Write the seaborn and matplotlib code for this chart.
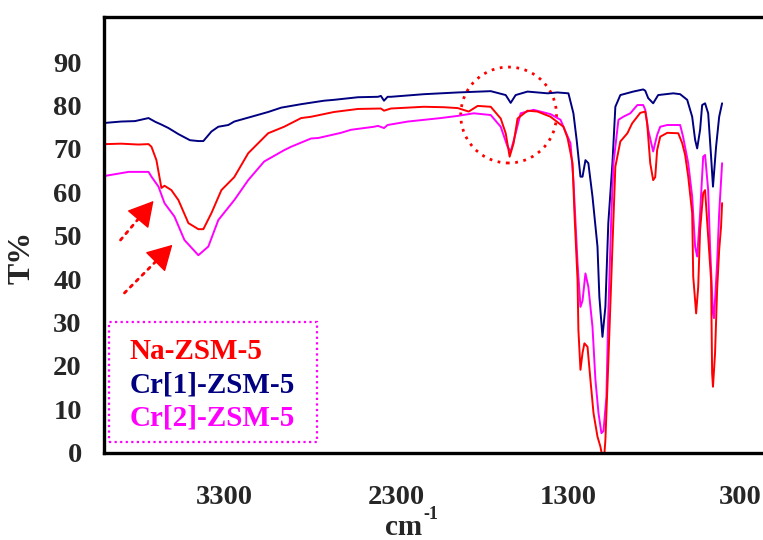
import numpy as np
import pandas as pd
import matplotlib
matplotlib.use('Agg')
import matplotlib.pyplot as plt
from matplotlib.patches import Ellipse, Rectangle
import seaborn as sns

# --- spectra (wavenumber cm-1, transmittance %) ---
na_wn = [3990, 3900, 3800, 3741, 3724, 3695, 3666, 3648, 3608, 3567, 3509, 3451, 3422, 3375,
         3317, 3242, 3161, 3045, 2952, 2853, 2795, 2662, 2522, 2389, 2371, 2331, 2139, 2023,
         1942, 1878, 1826, 1750, 1692, 1663, 1640, 1617, 1594, 1536, 1478, 1402, 1327, 1303,
         1274, 1263, 1245, 1240, 1228, 1216, 1205, 1187, 1170, 1152, 1129, 1112, 1100, 1090,
         1083, 1066, 1042, 1025, 996, 955, 927, 880, 851, 840, 822, 805, 793, 782, 764, 723,
         659, 636, 619, 601, 578, 572, 555, 543, 532, 514, 503, 485, 468, 462, 457, 445, 433,
         421, 410, 404]
na_t = [71.1, 71.2, 71.0, 71.1, 70.5, 67.4, 61.0, 61.5, 60.5, 58.2, 52.9, 51.5, 51.5, 55.2,
        60.5, 63.5, 69.0, 73.6, 75.1, 77.1, 77.4, 78.5, 79.2, 79.3, 78.8, 79.3, 79.7, 79.6,
        79.4, 78.6, 79.9, 79.7, 77.0, 73.6, 68.2, 71.3, 77.0, 78.8, 78.6, 77.4, 75.1, 72.5,
        66.7, 55.2, 39.8, 28.3, 19.1, 23.0, 25.2, 24.4, 16.8, 9.1, 3.7, 1.4, -1.0, -1.0,
        2.9, 20.7, 47.5, 65.9, 71.7, 73.6, 75.9, 78.3, 78.6, 75.9, 66.7, 62.8, 63.5, 69.7,
        72.8, 73.7, 73.6, 71.3, 68.6, 63.6, 55.2, 40.6, 32.1, 38.2, 51.3, 59.8, 60.5, 49.8,
        39.8, 18.3, 15.2, 22.9, 37.5, 46.7, 52.1, 57.5]

cr1_wn = [3990, 3900, 3820, 3741, 3700, 3666, 3625, 3567, 3500, 3451, 3422, 3375, 3335, 3277,
          3242, 3143, 3045, 2969, 2853, 2720, 2662, 2522, 2406, 2389, 2371, 2350, 2331, 2139,
          1942, 1750, 1663, 1634, 1605, 1536, 1419, 1362, 1298, 1269, 1250, 1240, 1228, 1216,
          1199, 1182, 1158, 1129, 1118, 1100, 1083, 1066, 1042, 1025, 996, 921, 863, 851, 834,
          805, 776, 688, 648, 607, 578, 561, 549, 532, 520, 503, 485, 468, 457, 439, 421, 404]
cr1_t = [76.0, 76.3, 76.4, 77.1, 76.2, 75.6, 74.8, 73.4, 72.0, 71.8, 71.8, 74.0, 75.1, 75.5,
         76.3, 77.4, 78.5, 79.5, 80.3, 81.1, 81.3, 81.9, 82.0, 82.2, 81.1, 82.0, 82.0, 82.6,
         83.0, 83.3, 82.4, 80.6, 82.4, 83.2, 82.8, 83.0, 82.8, 78.2, 72.0, 68.2, 63.6, 63.6,
         67.4, 66.7, 59.0, 47.5, 35.9, 26.7, 33.6, 52.9, 66.7, 79.7, 82.4, 83.2, 83.7, 83.4,
         81.7, 80.5, 82.4, 82.8, 82.6, 81.3, 77.4, 72.1, 70.1, 74.4, 80.1, 80.5, 78.2, 68.2,
         61.3, 70.5, 77.4, 80.5]

cr2_wn = [3990, 3857, 3741, 3724, 3683, 3648, 3590, 3532, 3451, 3393, 3335, 3242, 3161, 3068,
          2952, 2911, 2795, 2754, 2621, 2563, 2429, 2406, 2371, 2350, 2232, 2041, 1942, 1849,
          1750, 1692, 1652, 1634, 1605, 1576, 1501, 1402, 1344, 1286, 1269, 1245, 1228, 1216,
          1199, 1182, 1158, 1141, 1123, 1106, 1094, 1077, 1066, 1048, 1036, 1007, 979, 938,
          897, 863, 851, 834, 805, 782, 764, 723, 648, 631, 601, 578, 561, 549, 532, 514, 503,
          485, 474, 457, 451, 433, 421, 404]
cr2_t = [63.8, 64.7, 64.7, 63.6, 61.3, 57.5, 54.4, 49.0, 45.5, 47.5, 53.6, 58.2, 62.8, 67.1,
         69.7, 70.5, 72.4, 72.5, 73.7, 74.4, 75.1, 75.3, 74.8, 75.5, 76.3, 77.1, 77.6, 78.2,
         77.8, 75.1, 70.5, 69.4, 73.6, 78.2, 79.0, 78.0, 76.7, 71.3, 62.8, 43.7, 33.6, 35.0,
         41.3, 38.2, 29.0, 16.8, 9.1, 4.5, 5.0, 12.9, 32.1, 55.2, 66.7, 76.7, 77.4, 78.2,
         80.1, 80.1, 79.0, 74.4, 69.4, 73.2, 75.1, 75.5, 75.5, 72.8, 66.7, 59.0, 47.5, 45.2,
         55.2, 68.2, 68.6, 60.5, 47.5, 32.1, 31.0, 43.6, 55.2, 66.7]

labels = ['Na-ZSM-5', 'Cr[1]-ZSM-5', 'Cr[2]-ZSM-5']
colors = {'Na-ZSM-5': '#FF0000', 'Cr[1]-ZSM-5': '#000080', 'Cr[2]-ZSM-5': '#FF00FF'}
x_ticks = [3300, 2300, 1300, 300]
y_ticks = list(range(0, 100, 10))

df = pd.concat([
    pd.DataFrame({'wn': cr1_wn, 'T': cr1_t, 'sample': 'Cr[1]-ZSM-5'}),
    pd.DataFrame({'wn': cr2_wn, 'T': cr2_t, 'sample': 'Cr[2]-ZSM-5'}),
    pd.DataFrame({'wn': na_wn, 'T': na_t, 'sample': 'Na-ZSM-5'}),
])

sns.set_style('white')
plt.rcParams['font.family'] = ['Liberation Serif', 'DejaVu Serif']
plt.rcParams['font.weight'] = 'bold'

fig = plt.figure(figsize=(7.63, 5.40), dpi=100)
ax = fig.add_axes([104 / 763, 87.3 / 540, 659 / 763, 436.2 / 540])

sns.lineplot(data=df, x='wn', y='T', hue='sample', palette=colors, sort=False,
             estimator=None, linewidth=1.4, legend=False, ax=ax)

ax.set_xlim(4000, 166)
ax.set_ylim(0, 100.5)
ax.set_xticks(x_ticks)
ax.set_yticks(y_ticks)
ax.tick_params(axis='both', direction='out', length=10, width=1, color='#555555',
               labelsize=20.5)
ax.tick_params(axis='y', pad=6)
ax.tick_params(axis='x', pad=13)
for lab in ax.get_xticklabels() + ax.get_yticklabels():
    lab.set_fontweight('bold')
for side in ['left', 'bottom', 'top']:
    ax.spines[side].set_linewidth(2.4)
    ax.spines[side].set_color('black')
ax.spines['right'].set_visible(False)
ax.set_xlabel('')
ax.set_ylabel('')

# axis titles
fig.text(385 / 763, 5 / 540, 'cm', ha='left', va='baseline', fontsize=21, fontweight='bold')
fig.text(423 / 763, 21 / 540, '-1', ha='left', va='baseline', fontsize=13, fontweight='bold')
fig.text(22 / 763, (540 - 257) / 540, 'T%', rotation=90, ha='center', va='center',
         fontsize=23, fontweight='bold')

# legend-like box
ax.add_patch(Rectangle((3973, 2.5), 2760 - 3973, 30.1 - 2.5, fill=False,
                       edgecolor='#FF00FF', linewidth=1.6, linestyle=(0, (1, 1.5))))
for i, lab in enumerate(labels):
    ax.text(3850, 23.3 - i * 7.7, lab, color=colors[lab], fontsize=21, fontweight='bold',
            ha='left', va='center')

# annotations
ax.add_patch(Ellipse((1646, 77.8), 557, 22.1, fill=False, edgecolor='red',
                     linewidth=2, linestyle=(0, (1, 2))))
for tail, tip in [((3904, 49.0), (3712, 58.0)), ((3881, 36.8), (3602, 47.9))]:
    # dotted shaft
    ax.annotate('', xy=tip, xytext=tail,
                arrowprops=dict(arrowstyle='-', color='red', lw=2, linestyle=(0, (1, 2)),
                                shrinkA=0, shrinkB=6))
    # solid head
    neck = (tail[0] + 0.9 * (tip[0] - tail[0]), tail[1] + 0.9 * (tip[1] - tail[1]))
    ax.annotate('', xy=tip, xytext=neck,
                arrowprops=dict(arrowstyle='-|>,head_length=0.8,head_width=0.45',
                                color='red', lw=1, mutation_scale=20, shrinkA=0, shrinkB=0))

fig.savefig('out.png', dpi=100)
